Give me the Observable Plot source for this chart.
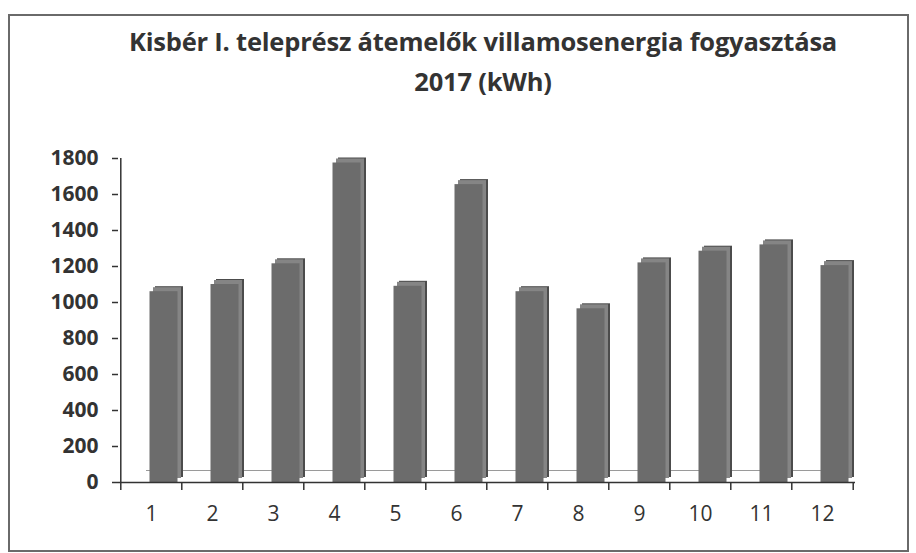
<!DOCTYPE html>
<html>
<head>
<meta charset="utf-8">
<script src="https://cdn.jsdelivr.net/npm/d3@7"></script>
<script src="https://cdn.jsdelivr.net/npm/@observablehq/plot@0.6"></script>
<style>
  html, body { margin: 0; padding: 0; background: #fff; }
  body { width: 916px; height: 553px; position: relative; overflow: hidden; font-family: "Open Sans", Lato, sans-serif; }
  #frame { position: absolute; left: 8px; top: 14px; width: 897px; height: 534px; border: 2px solid #6a6a6a; box-sizing: content-box; }
  #title { position: absolute; left: 0; width: 916px; top: 21px; text-align: center; font-weight: 700; font-size: 25.5px; line-height: 40px; color: #333; padding-left: 50px; box-sizing: border-box; letter-spacing: -0.2px; }
  #chart { position: absolute; left: 0; top: 140px; }
</style>
</head>
<body>
<div id="frame"></div>
<div id="title">Kisbér I. teleprész átemelők villamosenergia fogyasztása<br>2017 (kWh)</div>
<div id="chart"></div>
<script>
const months = [1, 2, 3, 4, 5, 6, 7, 8, 9, 10, 11, 12];
const consumption = [1060, 1100, 1215, 1775, 1090, 1655, 1060, 965, 1220, 1285, 1320, 1205];
const yTicks = [0, 200, 400, 600, 800, 1000, 1200, 1400, 1600, 1800];

const data = months.map((m, i) => ({month: m, kwh: consumption[i]}));
const half = (855 - 118) / 12 / 2;
const font = "'Open Sans', Lato, sans-serif";

const plot = Plot.plot({
  width: 916,
  height: 402,
  marginLeft: 118,
  marginRight: 61,
  marginTop: 18,
  marginBottom: 60,
  style: {fontFamily: font, color: "#333", background: "transparent"},
  x: {type: "band", domain: months, paddingInner: 0.54, paddingOuter: 0.27, align: 0.5, label: null},
  y: {domain: [0, 1800], ticks: yTicks, label: null},
  marks: [
    // back floor edge
    Plot.ruleY([0], {dy: -12, stroke: "#9a9a9a", strokeWidth: 1.2, insetLeft: 28, insetRight: 12}),
    // side / top face (depth)
    Plot.barY(data, {x: "month", y: "kwh", fill: "#4c4c4c", dx: 18, dy: -5}),
    Plot.barY(data, {x: "month", y: "kwh", fill: "#858585", dx: 16, dy: -4}),
    // front face
    Plot.barY(data, {x: "month", y: "kwh", fill: "#6c6c6c", dx: 12.5}),
    Plot.ruleY([0], {stroke: "#333", strokeWidth: 1.5}),
    Plot.ruleX([0], {x: () => months[0], dx: -half, y1: 0, y2: 1800, stroke: "#333", strokeWidth: 1.5}),
    // x tick marks at band edges
    Plot.ruleX(months, {x: d => d, y1: 0, y2: -45, dx: -half, stroke: "#333", strokeWidth: 1.5}),
    Plot.ruleX([months[11]], {x: d => d, y1: 0, y2: -45, dx: half, stroke: "#333", strokeWidth: 1.5}),
    Plot.axisY({ticks: yTicks, tickFormat: d => String(d), tickSize: 6, tickPadding: 14, fontSize: 21, fontWeight: 700, stroke: "#333", strokeWidth: 1.5, label: null}),
    Plot.axisX({tickSize: 0, tickPadding: 24, fontSize: 21, fontWeight: 400, label: null})
  ]
});
document.getElementById("chart").appendChild(plot);
</script>
</body>
</html>
